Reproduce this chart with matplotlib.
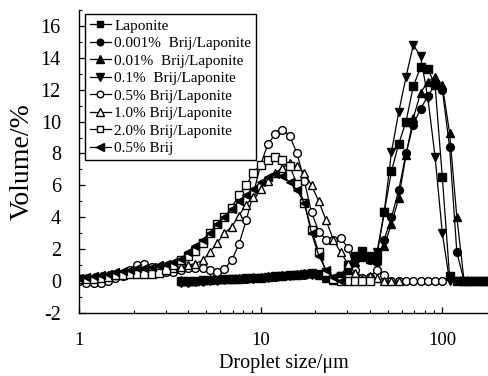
import numpy as np
import matplotlib
matplotlib.use("Agg")
import matplotlib.pyplot as plt
from matplotlib.ticker import FixedLocator, MultipleLocator, NullFormatter

plt.rcParams['font.family'] = ['Liberation Serif', 'DejaVu Serif']
plt.rcParams['axes.unicode_minus'] = False

# size classes of the analyser (um), shared by all samples
size_um = [1.000, 1.096, 1.202, 1.318, 1.445, 1.585, 1.738, 1.905, 2.089, 2.291,
           2.512, 2.754, 3.020, 3.311, 3.631, 3.981, 4.365, 4.786, 5.248, 5.754,
           6.310, 6.918, 7.586, 8.318, 9.120, 10.00, 10.96, 12.02, 13.18, 14.45,
           15.85, 17.38, 19.05, 20.89, 22.91, 25.12, 27.54, 30.20, 33.11, 36.31,
           39.81, 43.65, 47.86, 52.48, 57.54, 63.10, 69.18, 75.86, 83.18, 91.20,
           100.0, 109.6, 120.2, 131.8, 144.5, 158.5, 173.8]

# volume % per class; the Laponite emulsions start at the 3.631 um class
laponite = [0.0, 0.0, 0.0, 0.05, 0.05, 0.1, 0.1, 0.15, 0.15, 0.2, 0.2, 0.2, 0.25, 0.3,
            0.3, 0.35, 0.4, 0.45, 0.5, 0.45, 0.3, 0.1,
            0.3, 1.0, 1.6, 1.9, 1.5, 1.6, 4.3, 6.9, 8.6, 10.0, 12.2, 13.4, 13.3, 12.3,
            6.5, 0.3, 0, 0, 0, 0, 0]
brij_0001 = [-0.05, -0.05, 0.0, 0.0, 0.05, 0.05, 0.1, 0.1, 0.15, 0.15, 0.2, 0.2, 0.25,
             0.25, 0.3, 0.35, 0.4, 0.4, 0.45, 0.4, 0.25, 0.05,
             0.2, 0.8, 1.3, 1.6, 1.3, 1.2, 2.6, 4.0, 5.7, 8.0, 9.8, 10.8, 11.6, 12.3,
             12.0, 8.4, 1.8, 0, 0, 0, 0]
brij_001 = [0.05, 0.0, 0.0, 0.05, 0.1, 0.1, 0.15, 0.15, 0.2, 0.2, 0.25, 0.25, 0.3, 0.3,
            0.35, 0.4, 0.45, 0.5, 0.5, 0.4, 0.2, 0.05,
            0.2, 0.7, 1.2, 1.5, 1.4, 1.3, 2.2, 3.6, 5.2, 7.9, 10.2, 11.8, 12.5, 12.8,
            12.3, 9.3, 4.0, 0, 0, 0, 0]
brij_01 = [-0.1, -0.1, -0.05, -0.05, 0.0, 0.0, 0.05, 0.1, 0.1, 0.15, 0.15, 0.2, 0.2,
           0.25, 0.3, 0.3, 0.35, 0.4, 0.4, 0.35, 0.2, 0.05,
           0.3, 1.0, 1.5, 1.7, 1.6, 1.8, 4.3, 8.1, 10.6, 12.8, 14.8, 14.1, 11.5, 7.8,
           3.0, 0, 0, 0, 0, 0, 0]
# the other samples start at 1 um
brij_05 = [0.0, -0.1, -0.1, -0.1, 0.0, 0.2, 0.3, 0.7, 1.0, 1.1, 0.9, 0.7, 0.6, 0.6,
           0.7, 0.8, 0.8, 0.8, 0.7, 0.55, 0.75, 1.3, 2.3, 3.8, 5.5, 7.3, 8.6, 9.2,
           9.5, 9.1, 8.0, 6.3, 4.3, 3.1, 2.6, 2.6, 2.7, 2.1, 0.7, 0.2, 0.25, 0.7,
           0.4, 0, 0, 0, 0, 0, 0, 0, 0]
brij_10 = [0.2, 0.2, 0.25, 0.3, 0.35, 0.4, 0.45, 0.5, 0.5, 0.55, 0.6, 0.65, 0.7, 0.8,
           0.9, 1.0, 1.1, 1.3, 1.8, 2.4, 3.0, 3.4, 4.1, 4.8, 5.3, 5.8, 6.3, 6.8,
           7.1, 7.4, 7.2, 6.8, 6.0, 5.0, 3.8, 2.6, 1.8, 1.1, 0.5, 0.1, 0.3, 0.2,
           0, 0, 0]
brij_20 = [0.1, 0.1, 0.15, 0.2, 0.25, 0.35, 0.4, 0.45, 0.45, 0.45, 0.45, 0.5, 0.7, 1.0,
           1.3, 1.6, 1.9, 2.4, 3.0, 3.6, 4.0, 4.6, 5.4, 6.0, 6.8, 7.3, 7.6, 7.8,
           7.6, 7.2, 6.1, 4.9, 3.2, 1.8, 0.6, 0.1, 0, 0, 0, 0, 0]
brij_only = [0.2, 0.25, 0.3, 0.4, 0.45, 0.55, 0.65, 0.7, 0.8, 0.85, 0.9, 1.0, 1.05, 1.2,
             1.4, 1.8, 2.2, 2.6, 3.0, 3.6, 4.0, 4.5, 5.0, 5.4, 5.8, 6.2, 6.5, 6.7,
             6.6, 6.2, 5.7, 4.9, 3.0, 1.6, 0.7, 0.25, 0.0]

labels = ['Laponite', '0.001%  Brij/Laponite', '0.01%  Brij/Laponite',
          '0.1%  Brij/Laponite', '0.5% Brij/Laponite', '1.0% Brij/Laponite',
          '2.0% Brij/Laponite', '0.5% Brij']


def pad(vals, start):
    out = np.full(len(size_um), np.nan)
    out[start:start + len(vals)] = vals
    return out


series = [
    (pad(laponite, 14), 's', 'k'),
    (pad(brij_0001, 14), 'o', 'k'),
    (pad(brij_001, 14), '^', 'k'),
    (pad(brij_01, 14), 'v', 'k'),
    (pad(brij_05, 0), 'o', 'w'),
    (pad(brij_10, 0), '^', 'w'),
    (pad(brij_20, 0), 's', 'w'),
    (pad(brij_only, 0), '<', 'k'),
]

fig = plt.figure(figsize=(4.89, 3.76), dpi=100)
ax = fig.add_axes([0.1616, 0.1676, 0.836, 0.806])

x = np.array(size_um)
for (y, m, fc), lab in zip(series, labels):
    ms = 5.6 if m in ('s', 'o') else 6.4
    ax.plot(x, y, color='k', lw=0.9, marker=m, ms=ms, mfc=fc, mec='k',
            mew=1.0, label=lab)

ax.set_xscale('log')
ax.set_xlim(1, 178)
ax.set_ylim(-2, 17)
ax.yaxis.set_major_locator(FixedLocator(np.arange(-2, 17, 2)))
ax.yaxis.set_minor_locator(MultipleLocator(1))
ax.set_xticks([1, 10, 100])
ax.set_xticklabels(['1', '10', '100'])
ax.xaxis.set_minor_formatter(NullFormatter())

for s in ('top', 'right'):
    ax.spines[s].set_visible(False)
for s in ('left', 'bottom'):
    ax.spines[s].set_linewidth(1.0)

ax.tick_params(which='major', direction='in', length=4, width=0.9)
ax.tick_params(which='minor', direction='in', length=2.5, width=0.8)
ax.tick_params(axis='y', which='major', labelsize=14.5, pad=13)
ax.tick_params(axis='x', which='major', labelsize=13.5, pad=14)

ax.set_xlabel('Droplet size/\u03bcm', fontsize=14.5, labelpad=3)
ax.set_ylabel('Volume/%', fontsize=20, labelpad=4)

leg = ax.legend(loc='upper left', bbox_to_anchor=(0.015, 0.985), fontsize=11,
                frameon=True, fancybox=False, edgecolor='k', framealpha=1,
                handlelength=1.4, handletextpad=0.2, labelspacing=0.25,
                borderpad=0.3, borderaxespad=0.0, markerscale=0.85)
leg.get_frame().set_linewidth(1.0)

fig.savefig('out.png', dpi=100)
